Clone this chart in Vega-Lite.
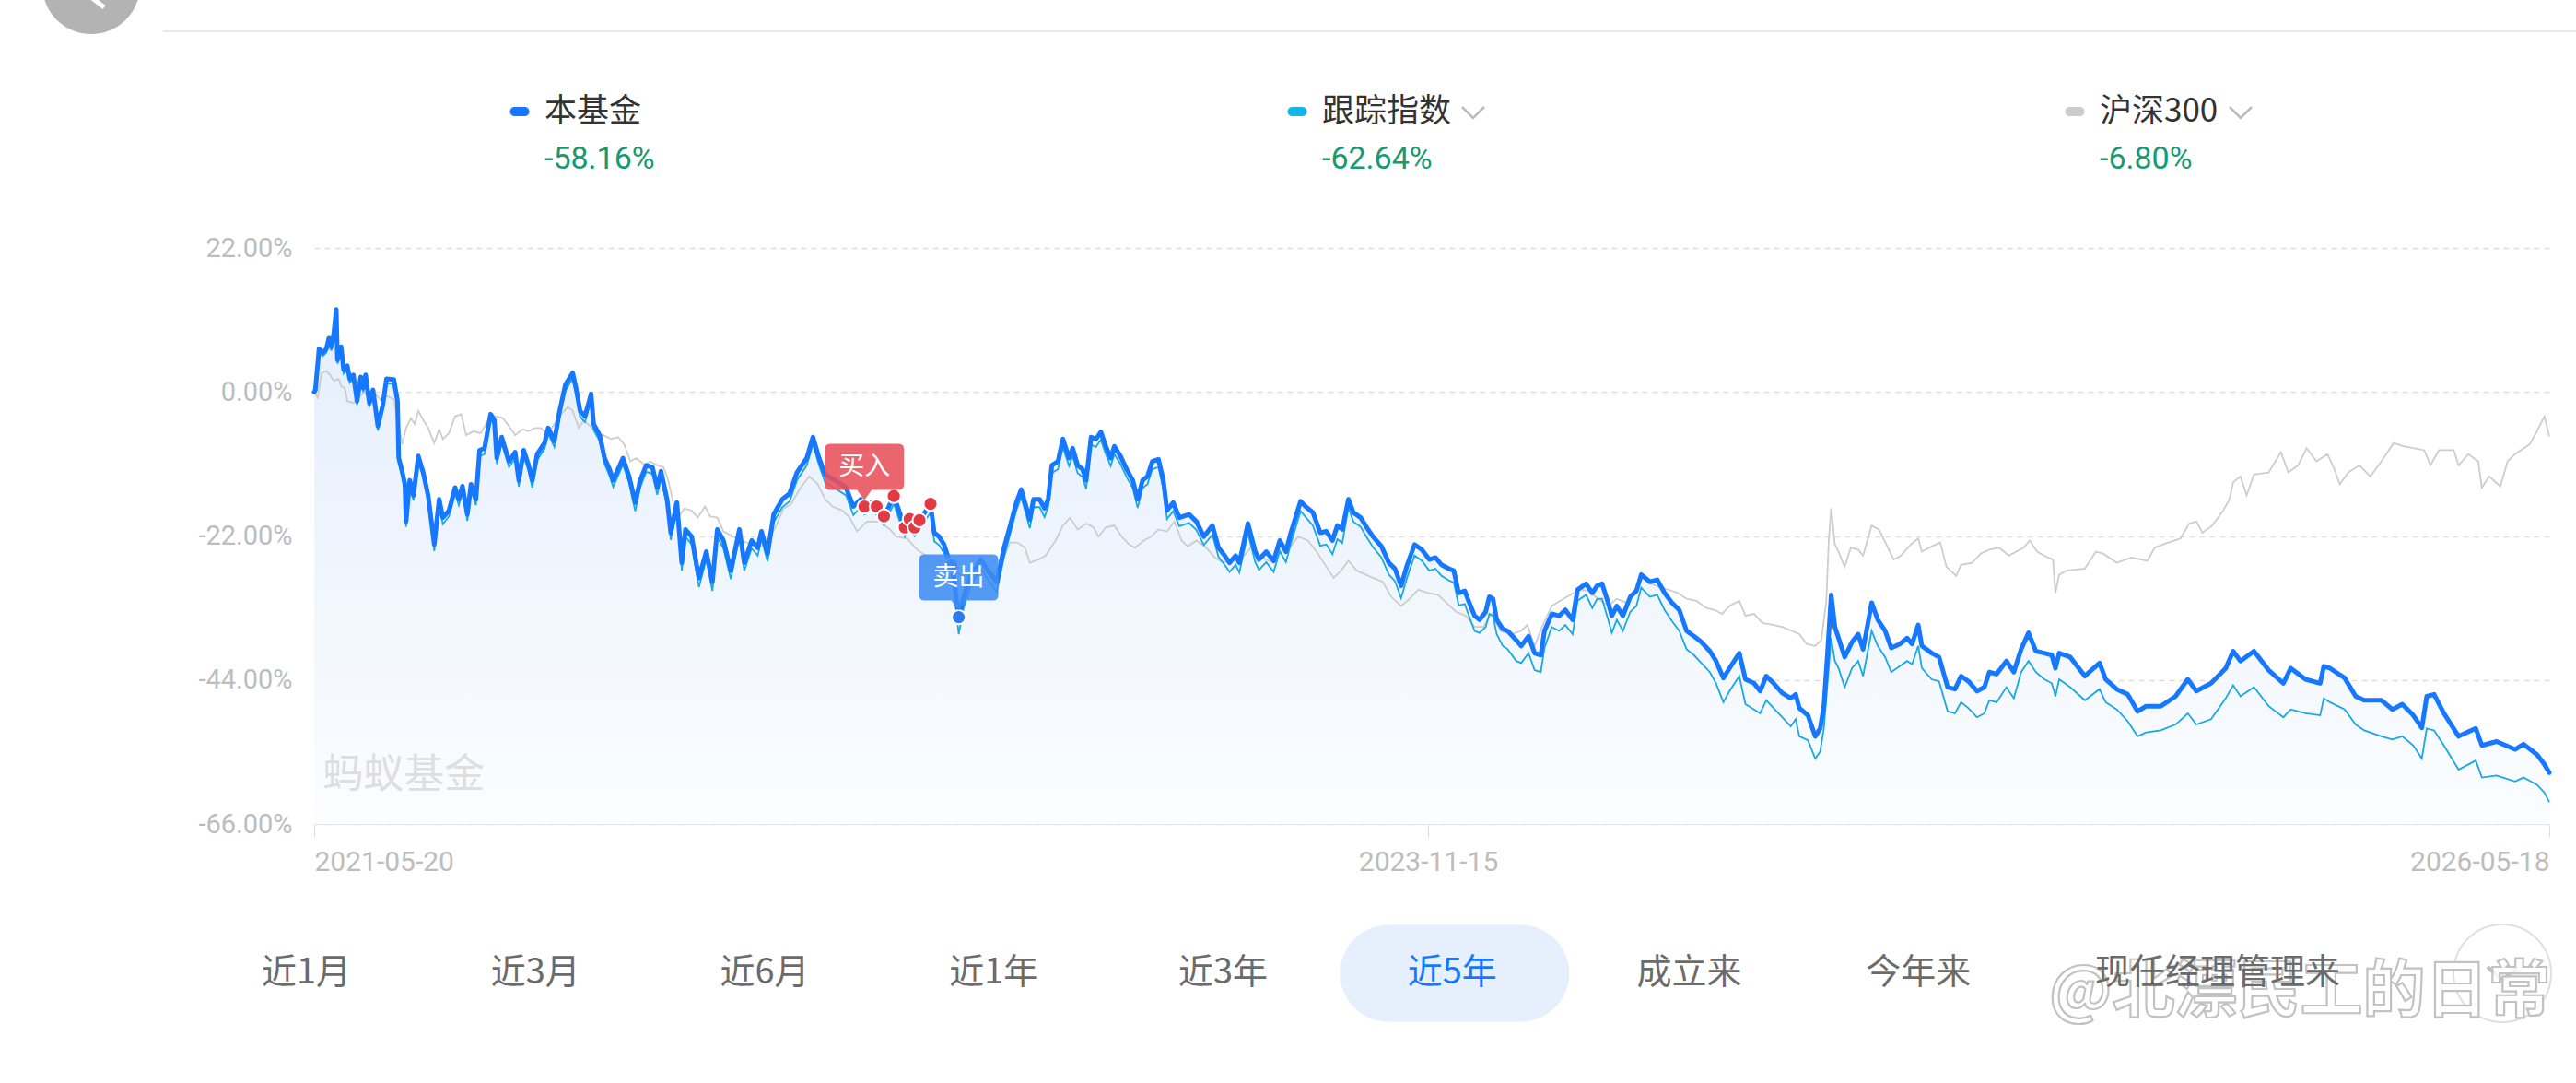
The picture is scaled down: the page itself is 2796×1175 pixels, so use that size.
{
  "$schema": "https://vega.github.io/schema/vega-lite/v6.json",
  "width": 2426,
  "height": 625,
  "autosize": {"type": "none"},
  "padding": {"left": 341, "top": 269, "right": 29, "bottom": 281},
  "background": "#ffffff",
  "config": {"view": {"stroke": null}, "font": "Noto Sans CJK SC"},
  "datasets": {
    "fund": [
      {"day":0,"fund":0,"index":0},{"day":1,"fund":0.3,"index":0.2},{"day":4,"fund":6.6,"index":6.0},{"day":7,"fund":6.0,"index":5.5},{"day":10,"fund":6.6,"index":6.0},{"day":12,"fund":8.2,"index":7.6},{"day":14,"fund":6.9,"index":6.3},{"day":16,"fund":8.9,"index":8.2},{"day":18,"fund":12.6,"index":11.8},{"day":19,"fund":4.9,"index":4.3},{"day":22,"fund":6.9,"index":6.2},{"day":24,"fund":3.4,"index":2.8},{"day":27,"fund":4.0,"index":3.4},{"day":29,"fund":2.0,"index":1.4},{"day":32,"fund":2.6,"index":2.0},{"day":35,"fund":-1.4,"index":-2.0},{"day":38,"fund":2.3,"index":1.7},{"day":40,"fund":0.6,"index":0.0},{"day":42,"fund":2.6,"index":2.0},{"day":45,"fund":-1.7,"index":-2.3},{"day":48,"fund":0.3,"index":-0.3},{"day":52,"fund":-5.2,"index":-5.9},{"day":56,"fund":-2.0,"index":-2.6},{"day":59,"fund":2.0,"index":1.3},{"day":65,"fund":1.9,"index":1.2},{"day":68,"fund":-1.4,"index":-2.1},{"day":69,"fund":-10.1,"index":-10.8},{"day":72,"fund":-12.3,"index":-13.1},{"day":74,"fund":-14.1,"index":-14.9},{"day":75,"fund":-19.8,"index":-20.6},{"day":78,"fund":-13.5,"index":-14.3},{"day":81,"fund":-15.8,"index":-16.6},{"day":85,"fund":-9.8,"index":-10.6},{"day":89,"fund":-12.3,"index":-13.1},{"day":93,"fund":-15.8,"index":-16.7},{"day":98,"fund":-23.3,"index":-24.3},{"day":102,"fund":-16.4,"index":-17.3},{"day":105,"fund":-19.2,"index":-20.2},{"day":110,"fund":-18.1,"index":-19.0},{"day":115,"fund":-14.6,"index":-15.5},{"day":118,"fund":-16.4,"index":-17.3},{"day":121,"fund":-14.4,"index":-15.3},{"day":125,"fund":-18.7,"index":-19.7},{"day":128,"fund":-14.1,"index":-15.0},{"day":132,"fund":-16.4,"index":-17.3},{"day":135,"fund":-8.9,"index":-9.8},{"day":139,"fund":-8.6,"index":-9.5},{"day":144,"fund":-3.4,"index":-4.2},{"day":147,"fund":-4.3,"index":-5.1},{"day":149,"fund":-10.1,"index":-11.0},{"day":153,"fund":-6.9,"index":-7.8},{"day":159,"fund":-10.6,"index":-11.5},{"day":164,"fund":-9.2,"index":-10.1},{"day":167,"fund":-13.5,"index":-14.5},{"day":171,"fund":-8.9,"index":-9.8},{"day":175,"fund":-11.2,"index":-12.1},{"day":178,"fund":-13.5,"index":-14.6},{"day":182,"fund":-9.5,"index":-10.4},{"day":188,"fund":-7.8,"index":-8.7},{"day":191,"fund":-5.5,"index":-6.4},{"day":196,"fund":-7.5,"index":-8.4},{"day":200,"fund":-3.2,"index":-4.1},{"day":205,"fund":1.1,"index":0.2},{"day":211,"fund":2.9,"index":2.0},{"day":214,"fund":0.3,"index":-0.6},{"day":217,"fund":-2.9,"index":-3.8},{"day":221,"fund":-3.7,"index":-4.6},{"day":226,"fund":-0.3,"index":-1.2},{"day":228,"fund":-4.9,"index":-5.8},{"day":233,"fund":-6.6,"index":-7.5},{"day":237,"fund":-10.1,"index":-11.0},{"day":241,"fund":-11.8,"index":-12.8},{"day":244,"fund":-13.5,"index":-14.5},{"day":248,"fund":-11.8,"index":-12.8},{"day":252,"fund":-10.1,"index":-11.1},{"day":257,"fund":-12.9,"index":-13.9},{"day":262,"fund":-16.9,"index":-18.2},{"day":266,"fund":-13.5,"index":-14.6},{"day":271,"fund":-11.2,"index":-12.2},{"day":276,"fund":-11.5,"index":-12.5},{"day":280,"fund":-14.6,"index":-15.7},{"day":283,"fund":-12.1,"index":-13.1},{"day":288,"fund":-16.4,"index":-17.5},{"day":291,"fund":-21.5,"index":-22.6},{"day":296,"fund":-16.9,"index":-18.0},{"day":300,"fund":-26.1,"index":-27.3},{"day":303,"fund":-21.0,"index":-22.1},{"day":308,"fund":-22.1,"index":-23.3},{"day":314,"fund":-28.4,"index":-29.8},{"day":320,"fund":-24.4,"index":-25.6},{"day":325,"fund":-29.0,"index":-30.4},{"day":329,"fund":-21.0,"index":-22.2},{"day":334,"fund":-22.7,"index":-23.9},{"day":340,"fund":-27.3,"index":-28.6},{"day":347,"fund":-21.0,"index":-22.2},{"day":351,"fund":-26.1,"index":-27.3},{"day":357,"fund":-22.7,"index":-23.9},{"day":362,"fund":-23.8,"index":-25.0},{"day":365,"fund":-21.3,"index":-22.5},{"day":370,"fund":-24.7,"index":-25.9},{"day":375,"fund":-18.7,"index":-19.9},{"day":382,"fund":-16.4,"index":-17.6},{"day":388,"fund":-15.5,"index":-16.7},{"day":394,"fund":-12.3,"index":-13.5},{"day":402,"fund":-10.1,"index":-11.2},{"day":407,"fund":-6.9,"index":-8.0},{"day":412,"fund":-10.1,"index":-11.2},{"day":417,"fund":-12.6,"index":-13.8},{"day":425,"fund":-13.5,"index":-14.7},{"day":434,"fund":-14.6,"index":-15.8},{"day":440,"fund":-17.5,"index":-18.8},{"day":446,"fund":-16.4,"index":-17.6},{"day":449,"fund":-17.5,"index":-18.7},{"day":455,"fund":-16.9,"index":-18.0},{"day":459,"fund":-17.5,"index":-18.8},{"day":462,"fund":-17.0,"index":-18.2},{"day":465,"fund":-19.0,"index":-20.3},{"day":469,"fund":-17.5,"index":-18.7},{"day":473,"fund":-15.9,"index":-17.1},{"day":477,"fund":-18.0,"index":-19.3},{"day":482,"fund":-20.8,"index":-22.1},{"day":486,"fund":-19.4,"index":-20.7},{"day":490,"fund":-20.7,"index":-22.0},{"day":494,"fund":-19.7,"index":-21.0},{"day":498,"fund":-18.5,"index":-19.8},{"day":503,"fund":-17.1,"index":-18.4},
      {"day":506,"fund":-21.5,"index":-22.8},{"day":510,"fund":-22.1,"index":-23.4},{"day":514,"fund":-23.3,"index":-24.6},{"day":518,"fund":-25.6,"index":-26.9},{"day":520,"fund":-26.5,"index":-27.8},{"day":522,"fund":-28.4,"index":-29.9},{"day":526,"fund":-34.4,"index":-37.0},{"day":530,"fund":-31.3,"index":-33.0},{"day":536,"fund":-27.9,"index":-29.4},{"day":544,"fund":-25.6,"index":-27.0},{"day":550,"fund":-27.3,"index":-28.7},{"day":557,"fund":-29.0,"index":-30.6},{"day":563,"fund":-23.8,"index":-25.2},{"day":568,"fund":-20.4,"index":-21.7},{"day":573,"fund":-16.9,"index":-18.1},{"day":577,"fund":-14.9,"index":-16.1},{"day":580,"fund":-16.9,"index":-18.1},{"day":584,"fund":-19.5,"index":-20.8},{"day":587,"fund":-16.4,"index":-17.6},{"day":592,"fund":-16.4,"index":-17.6},{"day":596,"fund":-17.8,"index":-19.1},{"day":599,"fund":-16.4,"index":-17.6},{"day":602,"fund":-11.2,"index":-12.4},{"day":607,"fund":-10.6,"index":-11.8},{"day":611,"fund":-7.2,"index":-8.4},{"day":616,"fund":-10.1,"index":-11.3},{"day":619,"fund":-8.6,"index":-9.8},{"day":623,"fund":-11.2,"index":-12.4},{"day":627,"fund":-11.8,"index":-13.0},{"day":630,"fund":-13.5,"index":-14.8},{"day":634,"fund":-6.9,"index":-8.1},{"day":638,"fund":-7.2,"index":-8.4},{"day":642,"fund":-6.1,"index":-7.3},{"day":646,"fund":-8.3,"index":-9.5},{"day":650,"fund":-10.1,"index":-11.3},{"day":653,"fund":-8.3,"index":-9.5},{"day":658,"fund":-9.8,"index":-11.0},{"day":663,"fund":-11.8,"index":-13.0},{"day":668,"fund":-13.5,"index":-14.7},{"day":672,"fund":-16.4,"index":-17.7},{"day":676,"fund":-13.5,"index":-14.7},{"day":680,"fund":-12.9,"index":-14.1},{"day":684,"fund":-10.6,"index":-11.8},{"day":689,"fund":-10.3,"index":-11.5},{"day":693,"fund":-13.5,"index":-14.8},{"day":696,"fund":-18.1,"index":-19.4},{"day":701,"fund":-16.9,"index":-18.2},{"day":706,"fund":-19.2,"index":-20.5},{"day":714,"fund":-18.7,"index":-20.0},{"day":720,"fund":-19.8,"index":-21.1},{"day":726,"fund":-22.1,"index":-23.4},{"day":733,"fund":-20.4,"index":-21.8},{"day":738,"fund":-23.8,"index":-25.2},{"day":743,"fund":-25.0,"index":-26.4},{"day":747,"fund":-26.1,"index":-27.5},{"day":752,"fund":-25.0,"index":-26.4},{"day":755,"fund":-26.1,"index":-27.6},{"day":762,"fund":-20.1,"index":-21.6},{"day":768,"fund":-24.4,"index":-26.0},{"day":771,"fund":-25.6,"index":-27.2},{"day":777,"fund":-24.4,"index":-26.0},{"day":783,"fund":-25.8,"index":-27.5},{"day":788,"fund":-22.7,"index":-24.3},{"day":793,"fund":-24.4,"index":-26.0},{"day":797,"fund":-21.5,"index":-23.2},{"day":805,"fund":-16.7,"index":-18.2},{"day":809,"fund":-17.5,"index":-19.1},{"day":815,"fund":-18.4,"index":-20.4},{"day":821,"fund":-21.5,"index":-23.5},{"day":826,"fund":-21.3,"index":-23.3},{"day":831,"fund":-22.7,"index":-24.8},{"day":835,"fund":-20.4,"index":-22.5},{"day":839,"fund":-21.0,"index":-23.1},{"day":844,"fund":-16.4,"index":-17.6},{"day":848,"fund":-18.4,"index":-19.8},{"day":854,"fund":-19.2,"index":-20.6},{"day":859,"fund":-20.7,"index":-22.2},{"day":864,"fund":-22.1,"index":-23.7},{"day":871,"fund":-23.6,"index":-25.3},{"day":877,"fund":-26.1,"index":-27.9},{"day":882,"fund":-27.0,"index":-28.9},{"day":887,"fund":-29.6,"index":-31.5},{"day":892,"fund":-26.4,"index":-28.3},{"day":898,"fund":-23.3,"index":-25.0},{"day":904,"fund":-24.1,"index":-25.8},{"day":910,"fund":-25.6,"index":-27.3},{"day":915,"fund":-25.3,"index":-27.0},{"day":920,"fund":-26.4,"index":-28.1},{"day":926,"fund":-27.0,"index":-28.8},{"day":930,"fund":-27.3,"index":-29.1},{"day":934,"fund":-30.7,"index":-32.6},
      {"day":939,"fund":-30.4,"index":-32.4},{"day":942,"fund":-31.9,"index":-34.0},{"day":947,"fund":-34.2,"index":-36.5},{"day":951,"fund":-34.8,"index":-36.8},{"day":956,"fund":-33.6,"index":-35.9},{"day":959,"fund":-31.3,"index":-33.9},{"day":962,"fund":-31.6,"index":-34.2},{"day":965,"fund":-34.8,"index":-37.0},{"day":970,"fund":-36.2,"index":-38.8},{"day":974,"fund":-36.5,"index":-39.3},{"day":981,"fund":-37.9,"index":-41.1},{"day":985,"fund":-38.8,"index":-41.4},{"day":991,"fund":-37.3,"index":-39.9},{"day":996,"fund":-39.9,"index":-42.5},{"day":1001,"fund":-40.2,"index":-42.8},{"day":1004,"fund":-36.5,"index":-39.1},{"day":1010,"fund":-33.9,"index":-35.9},{"day":1016,"fund":-34.2,"index":-36.5},{"day":1021,"fund":-33.3,"index":-35.6},{"day":1027,"fund":-34.8,"index":-37.0},{"day":1031,"fund":-30.2,"index":-31.9},{"day":1038,"fund":-29.3,"index":-31.0},{"day":1043,"fund":-30.7,"index":-33.0},{"day":1047,"fund":-29.6,"index":-31.6},{"day":1051,"fund":-29.3,"index":-31.6},{"day":1056,"fund":-32.2,"index":-34.8},{"day":1059,"fund":-34.2,"index":-36.8},{"day":1063,"fund":-32.7,"index":-34.8},{"day":1068,"fund":-34.2,"index":-36.5},{"day":1074,"fund":-31.3,"index":-33.6},{"day":1079,"fund":-30.4,"index":-32.7},{"day":1083,"fund":-27.9,"index":-29.9},{"day":1090,"fund":-29.0,"index":-31.3},{"day":1096,"fund":-28.7,"index":-31.0},{"day":1102,"fund":-30.7,"index":-33.3},{"day":1108,"fund":-32.2,"index":-35.0},{"day":1114,"fund":-33.3,"index":-36.5},{"day":1120,"fund":-36.5,"index":-39.3},{"day":1126,"fund":-37.3,"index":-40.2},{"day":1132,"fund":-38.2,"index":-41.4},{"day":1139,"fund":-39.6,"index":-42.8},{"day":1144,"fund":-41.1,"index":-44.5},{"day":1150,"fund":-43.7,"index":-47.4},{"day":1155,"fund":-42.2,"index":-45.7},{"day":1163,"fund":-39.9,"index":-43.4},{"day":1168,"fund":-43.9,"index":-47.7},{"day":1175,"fund":-44.5,"index":-48.5},{"day":1180,"fund":-45.7,"index":-49.1},{"day":1185,"fund":-43.4,"index":-47.1},{"day":1191,"fund":-44.5,"index":-48.3},{"day":1198,"fund":-46.0,"index":-49.7},{"day":1205,"fund":-46.8,"index":-51.1},{"day":1209,"fund":-46.2,"index":-50.0},{"day":1212,"fund":-48.3,"index":-52.6},{"day":1219,"fund":-49.4,"index":-53.2},{"day":1225,"fund":-52.6,"index":-56.0},{"day":1229,"fund":-51.4,"index":-54.9},{"day":1232,"fund":-48.0,"index":-51.4},{"day":1235,"fund":-39.9,"index":-44.5},{"day":1238,"fund":-31.0,"index":-37.6},{"day":1241,"fund":-35.9,"index":-41.1},{"day":1244,"fund":-37.6,"index":-42.2},{"day":1249,"fund":-40.5,"index":-45.1},{"day":1255,"fund":-38.2,"index":-42.2},{"day":1260,"fund":-37.0,"index":-41.1},{"day":1264,"fund":-39.3,"index":-43.4},{"day":1271,"fund":-32.2,"index":-36.5},{"day":1276,"fund":-34.8,"index":-38.8},{"day":1282,"fund":-36.5,"index":-40.5},{"day":1287,"fund":-39.1,"index":-42.8},{"day":1294,"fund":-38.5,"index":-41.9},{"day":1300,"fund":-37.6,"index":-41.1},{"day":1304,"fund":-38.5,"index":-41.6},{"day":1309,"fund":-35.6,"index":-38.8},{"day":1312,"fund":-38.8,"index":-42.2},{"day":1320,"fund":-39.9,"index":-43.9},{"day":1326,"fund":-40.5,"index":-44.2},{"day":1333,"fund":-45.1,"index":-48.8},{"day":1339,"fund":-45.4,"index":-49.1},{"day":1344,"fund":-43.4,"index":-47.4},{"day":1350,"fund":-44.2,"index":-48.3},{"day":1357,"fund":-45.7,"index":-49.7},{"day":1363,"fund":-45.1,"index":-49.1},{"day":1367,"fund":-42.8,"index":-47.1},{"day":1373,"fund":-43.1,"index":-47.4},{"day":1381,"fund":-41.1,"index":-45.1},
      {"day":1387,"fund":-42.8,"index":-46.8},{"day":1393,"fund":-39.3,"index":-42.8},{"day":1399,"fund":-36.8,"index":-41.1},{"day":1405,"fund":-39.6,"index":-42.8},{"day":1412,"fund":-39.9,"index":-43.9},{"day":1418,"fund":-40.2,"index":-44.5},{"day":1421,"fund":-42.2,"index":-46.5},{"day":1424,"fund":-39.9,"index":-43.9},{"day":1433,"fund":-40.5,"index":-45.1},{"day":1445,"fund":-43.4,"index":-47.1},{"day":1457,"fund":-41.4,"index":-45.4},{"day":1462,"fund":-43.9,"index":-47.4},{"day":1471,"fund":-45.4,"index":-48.5},{"day":1480,"fund":-46.2,"index":-50.3},{"day":1488,"fund":-48.8,"index":-52.6},{"day":1495,"fund":-48.0,"index":-52.0},{"day":1507,"fund":-48.0,"index":-51.7},{"day":1519,"fund":-46.5,"index":-50.8},{"day":1529,"fund":-43.9,"index":-49.1},{"day":1536,"fund":-45.7,"index":-50.8},{"day":1548,"fund":-44.5,"index":-50.0},{"day":1560,"fund":-42.2,"index":-46.8},{"day":1566,"fund":-39.6,"index":-44.8},{"day":1572,"fund":-41.1,"index":-46.5},{"day":1583,"fund":-39.6,"index":-45.1},{"day":1595,"fund":-42.5,"index":-48.0},{"day":1607,"fund":-44.5,"index":-49.7},{"day":1613,"fund":-42.2,"index":-48.5},{"day":1625,"fund":-43.9,"index":-49.1},{"day":1637,"fund":-44.5,"index":-49.4},{"day":1640,"fund":-41.9,"index":-46.8},{"day":1645,"fund":-42.2,"index":-47.4},{"day":1657,"fund":-43.7,"index":-48.5},{"day":1666,"fund":-46.5,"index":-50.8},{"day":1673,"fund":-47.1,"index":-51.7},{"day":1687,"fund":-47.1,"index":-52.6},{"day":1696,"fund":-48.5,"index":-53.1},{"day":1704,"fund":-47.7,"index":-52.6},{"day":1713,"fund":-49.4,"index":-54.0},{"day":1720,"fund":-51.3,"index":-56.0},{"day":1724,"fund":-46.5,"index":-51.4},{"day":1730,"fund":-46.2,"index":-51.7},{"day":1738,"fund":-49.1,"index":-54.0},{"day":1750,"fund":-52.6,"index":-57.7},{"day":1764,"fund":-51.4,"index":-56.3},{"day":1769,"fund":-54.0,"index":-58.9},{"day":1781,"fund":-53.4,"index":-58.6},{"day":1796,"fund":-54.6,"index":-59.5},{"day":1803,"fund":-53.8,"index":-58.9},{"day":1814,"fund":-55.4,"index":-60.0},{"day":1820,"fund":-56.9,"index":-61.2},{"day":1824,"fund":-58.16,"index":-62.64}
    ],
    "hs": [
      {"day":0,"hs":0},{"day":3,"hs":-0.9},{"day":6,"hs":2.9},{"day":10,"hs":3.2},{"day":13,"hs":2.6},{"day":16,"hs":1.7},{"day":20,"hs":2.0},{"day":22,"hs":0.9},{"day":25,"hs":0.6},{"day":27,"hs":-1.4},{"day":32,"hs":-1.7},{"day":36,"hs":-0.9},{"day":41,"hs":0},{"day":45,"hs":-1.1},{"day":50,"hs":-0.3},{"day":55,"hs":-1.4},{"day":59,"hs":-0.6},{"day":65,"hs":-1.1},{"day":68,"hs":-4.3},{"day":72,"hs":-8.0},{"day":75,"hs":-5.5},{"day":79,"hs":-4.0},{"day":82,"hs":-4.9},{"day":85,"hs":-2.9},{"day":89,"hs":-4.3},{"day":93,"hs":-5.5},{"day":98,"hs":-7.8},{"day":102,"hs":-5.7},{"day":105,"hs":-7.2},{"day":110,"hs":-6.3},{"day":115,"hs":-3.7},{"day":120,"hs":-3.4},{"day":124,"hs":-6.6},{"day":130,"hs":-6.0},{"day":136,"hs":-6.3},{"day":142,"hs":-4.3},{"day":148,"hs":-3.7},{"day":154,"hs":-4.0},{"day":160,"hs":-5.5},{"day":164,"hs":-6.6},{"day":170,"hs":-5.7},{"day":175,"hs":-6.0},{"day":180,"hs":-5.5},{"day":185,"hs":-5.5},{"day":190,"hs":-6.3},{"day":194,"hs":-5.5},{"day":200,"hs":-3.7},{"day":207,"hs":-2.3},{"day":211,"hs":-2.9},{"day":216,"hs":-5.5},{"day":220,"hs":-4.3},{"day":227,"hs":-5.5},{"day":231,"hs":-6.6},{"day":236,"hs":-6.6},{"day":242,"hs":-7.2},{"day":248,"hs":-6.9},{"day":253,"hs":-8.0},{"day":258,"hs":-10.6},{"day":263,"hs":-10.1},{"day":270,"hs":-11.2},{"day":274,"hs":-10.6},{"day":280,"hs":-11.2},{"day":285,"hs":-11.5},{"day":289,"hs":-13.5},{"day":293,"hs":-16.9},{"day":297,"hs":-19.2},{"day":302,"hs":-17.8},{"day":308,"hs":-18.1},{"day":313,"hs":-19.2},{"day":319,"hs":-17.5},{"day":323,"hs":-19.0},{"day":329,"hs":-19.2},{"day":334,"hs":-21.3},{"day":342,"hs":-22.1},{"day":349,"hs":-22.7},{"day":357,"hs":-23.3},{"day":363,"hs":-23.8},{"day":371,"hs":-22.7},{"day":377,"hs":-20.4},{"day":383,"hs":-17.8},{"day":389,"hs":-17.2},{"day":397,"hs":-14.6},{"day":404,"hs":-12.9},{"day":411,"hs":-14.1},{"day":417,"hs":-16.4},{"day":423,"hs":-17.5},{"day":431,"hs":-18.1},{"day":437,"hs":-19.2},{"day":443,"hs":-21.3},{"day":451,"hs":-19.8},{"day":461,"hs":-19.8},{"day":470,"hs":-21.0},{"day":475,"hs":-22.1},{"day":484,"hs":-22.4},{"day":492,"hs":-24.1},{"day":499,"hs":-25.0},{"day":508,"hs":-25.6},{"day":518,"hs":-26.7},{"day":527,"hs":-27.9},{"day":536,"hs":-28.4},{"day":545,"hs":-27.3},{"day":554,"hs":-27.9},{"day":562,"hs":-25.6},{"day":568,"hs":-23.0},{"day":574,"hs":-23.0},{"day":580,"hs":-23.8},{"day":584,"hs":-26.1},{"day":591,"hs":-25.6},{"day":597,"hs":-25.0},{"day":605,"hs":-22.7},{"day":611,"hs":-20.4},{"day":617,"hs":-19.2},{"day":623,"hs":-21.0},{"day":630,"hs":-20.1},{"day":636,"hs":-20.7},{"day":640,"hs":-22.1},{"day":646,"hs":-20.7},{"day":653,"hs":-20.4},{"day":659,"hs":-22.1},{"day":665,"hs":-23.3},{"day":670,"hs":-23.8},{"day":677,"hs":-22.7},{"day":683,"hs":-22.1},{"day":689,"hs":-21.0},{"day":696,"hs":-21.3},{"day":702,"hs":-19.8},{"day":708,"hs":-22.7},{"day":713,"hs":-23.6},{"day":720,"hs":-22.7},{"day":728,"hs":-23.8},{"day":735,"hs":-25.3},{"day":742,"hs":-26.1},{"day":751,"hs":-25.6},{"day":759,"hs":-25.0},{"day":765,"hs":-23.6},{"day":771,"hs":-25.0},{"day":777,"hs":-25.6},{"day":783,"hs":-26.1},{"day":788,"hs":-23.8},{"day":795,"hs":-24.1},{"day":803,"hs":-22.1},{"day":811,"hs":-22.7},{"day":818,"hs":-24.4},{"day":826,"hs":-26.7},{"day":832,"hs":-28.4},{"day":838,"hs":-27.3},{"day":844,"hs":-25.8},{"day":851,"hs":-27.3},{"day":858,"hs":-27.9},{"day":864,"hs":-28.4},{"day":872,"hs":-29.0},{"day":879,"hs":-31.3},{"day":887,"hs":-32.7},{"day":894,"hs":-31.6},{"day":901,"hs":-30.2},{"day":909,"hs":-30.7},{"day":917,"hs":-31.0},{"day":924,"hs":-32.2},{"day":932,"hs":-33.6},{"day":940,"hs":-34.2},{"day":947,"hs":-35.9},{"day":954,"hs":-35.9},{"day":961,"hs":-33.9},{"day":968,"hs":-36.5},{"day":977,"hs":-37.0},{"day":985,"hs":-36.5},{"day":990,"hs":-35.6},{"day":996,"hs":-38.8},{"day":1002,"hs":-35.9},{"day":1010,"hs":-32.7},{"day":1017,"hs":-31.9},{"day":1025,"hs":-31.0},{"day":1033,"hs":-30.2},{"day":1040,"hs":-30.4},{"day":1048,"hs":-31.6},{"day":1056,"hs":-32.7},{"day":1063,"hs":-31.6},{"day":1071,"hs":-32.2},{"day":1077,"hs":-30.7},{"day":1083,"hs":-28.1},{"day":1091,"hs":-29.3},{"day":1099,"hs":-29.9},{"day":1105,"hs":-30.2},{"day":1113,"hs":-30.7},{"day":1120,"hs":-31.6},{"day":1128,"hs":-31.9},{"day":1136,"hs":-33.0},{"day":1143,"hs":-33.3},{"day":1149,"hs":-33.9},{"day":1155,"hs":-32.7},{"day":1163,"hs":-31.9},{"day":1168,"hs":-34.2},{"day":1175,"hs":-33.9},{"day":1182,"hs":-35.3},{"day":1191,"hs":-35.6},{"day":1198,"hs":-35.9},{"day":1206,"hs":-36.5},{"day":1212,"hs":-37.0},{"day":1218,"hs":-38.5},{"day":1225,"hs":-38.8},{"day":1230,"hs":-37.9},{"day":1234,"hs":-31.9},{"day":1236,"hs":-22.7},{"day":1238,"hs":-17.8},{"day":1241,"hs":-23.3},{"day":1244,"hs":-24.4},{"day":1249,"hs":-26.7},{"day":1254,"hs":-23.8},{"day":1260,"hs":-24.1},{"day":1264,"hs":-25.0},{"day":1271,"hs":-20.4},{"day":1277,"hs":-21.0},{"day":1283,"hs":-23.3},{"day":1289,"hs":-25.6},{"day":1295,"hs":-25.0},{"day":1303,"hs":-23.3},{"day":1309,"hs":-22.4},{"day":1312,"hs":-24.4},{"day":1320,"hs":-23.6},{"day":1327,"hs":-23.0},{"day":1332,"hs":-26.7},{"day":1340,"hs":-28.1},{"day":1344,"hs":-26.4},{"day":1353,"hs":-26.1},{"day":1360,"hs":-24.7},{"day":1367,"hs":-24.1},{"day":1375,"hs":-23.8},{"day":1383,"hs":-25.0},{"day":1389,"hs":-24.4},{"day":1395,"hs":-23.8},{"day":1400,"hs":-22.7},{"day":1406,"hs":-24.4},{"day":1415,"hs":-25.3},{"day":1419,"hs":-25.6},{"day":1421,"hs":-30.7},{"day":1424,"hs":-27.9},{"day":1430,"hs":-27.3},{"day":1445,"hs":-27.0},{"day":1454,"hs":-24.4},{"day":1460,"hs":-24.7},{"day":1471,"hs":-26.1},{"day":1483,"hs":-25.3},{"day":1496,"hs":-25.8},{"day":1502,"hs":-23.8},{"day":1513,"hs":-23.0},{"day":1523,"hs":-22.4},{"day":1530,"hs":-20.1},{"day":1536,"hs":-19.8},{"day":1541,"hs":-21.5},{"day":1549,"hs":-20.4},{"day":1558,"hs":-18.1},{"day":1563,"hs":-16.4},{"day":1566,"hs":-13.8},{"day":1572,"hs":-12.9},{"day":1577,"hs":-15.8},{"day":1583,"hs":-12.6},{"day":1595,"hs":-12.3},{"day":1605,"hs":-9.2},{"day":1611,"hs":-12.3},{"day":1619,"hs":-11.2},{"day":1626,"hs":-8.6},{"day":1634,"hs":-10.6},{"day":1643,"hs":-9.5},{"day":1648,"hs":-11.5},{"day":1653,"hs":-14.1},{"day":1660,"hs":-12.3},{"day":1669,"hs":-11.2},{"day":1678,"hs":-12.9},{"day":1687,"hs":-10.6},{"day":1697,"hs":-7.8},{"day":1705,"hs":-8.3},{"day":1722,"hs":-8.9},{"day":1727,"hs":-11.2},{"day":1734,"hs":-8.9},{"day":1746,"hs":-8.9},{"day":1750,"hs":-11.2},{"day":1758,"hs":-9.5},{"day":1766,"hs":-10.6},{"day":1769,"hs":-14.6},{"day":1775,"hs":-12.9},{"day":1784,"hs":-14.4},{"day":1790,"hs":-10.6},{"day":1796,"hs":-9.5},{"day":1808,"hs":-8.0},{"day":1814,"hs":-6.0},{"day":1820,"hs":-3.7},{"day":1824,"hs":-6.8}
    ],
    "trades": [
      {"day":449,"v":-17.5,"type":"买入","tag":"买入"},{"day":459,"v":-17.5,"type":"买入"},{"day":465,"v":-19.0,"type":"买入"},{"day":473,"v":-15.9,"type":"买入"},{"day":482,"v":-20.7,"type":"买入"},{"day":486,"v":-19.4,"type":"买入"},{"day":490,"v":-20.7,"type":"买入"},{"day":494,"v":-19.6,"type":"买入"},{"day":503,"v":-17.1,"type":"买入"},
      {"day":520,"v":-26.5,"type":"卖出"},{"day":526,"v":-34.4,"type":"卖出","tag":"卖出"}
    ],
    "legend": [
      {"name":"本基金","ret":"-58.16%"},
      {"name":"跟踪指数","ret":"-62.64%"},
      {"name":"沪深300","ret":"-6.80%"}
    ],
    "buttons": [
      {"label":"近1月"},{"label":"近3月"},{"label":"近6月"},{"label":"近1年"},{"label":"近3年"},{"label":"近5年"},{"label":"成立来"},{"label":"今年来"},{"label":"现任经理管理来"}
    ]
  },
  "layer": [
    {
      "layer": [
        {
          "data": {"name": "fund"},
          "mark": {"type": "area", "interpolate": "linear", "fill": {"gradient": "linear", "x1": 0, "y1": 0, "x2": 0, "y2": 1, "stops": [{"offset": 0, "color": "#e4eefc"}, {"offset": 1, "color": "#fbfdff"}]}},
          "encoding": {
            "x": {"field": "day", "type": "quantitative", "scale": {"domain": [0, 1824], "nice": false, "zero": false},
              "axis": {"values": [0, 909, 1824], "labelExpr": "timeFormat(datetime(2021, 4, 20 + datum.value), '%Y-%m-%d')", "labelFlush": true, "grid": false, "domain": true, "domainColor": "#e6e6e6", "ticks": true, "tickColor": "#dedede", "tickSize": 14, "labelPadding": 12, "labelColor": "#bdbdbd", "labelFontSize": 30, "labelFont": "Roboto", "title": null}},
            "y": {"field": "fund", "type": "quantitative", "scale": {"domain": [-66, 22], "nice": false, "zero": false},
              "axis": {"values": [22, 0, -22, -44, -66], "labelExpr": "(datum.value < 0 ? '-' : '') + format(abs(datum.value), '.2f') + '%'", "grid": true, "gridDash": [6, 5], "gridColor": "#dddddd", "gridWidth": 1.5, "domain": false, "ticks": false, "labelPadding": 24, "labelColor": "#bdbdbd", "labelFontSize": 29, "labelFont": "Roboto", "title": null}},
            "y2": {"datum": -66}
          }
        },
        {
          "data": {"name": "hs"},
          "mark": {"type": "line", "color": "#cdcdcd", "strokeWidth": 1.8},
          "encoding": {"x": {"field": "day", "type": "quantitative"}, "y": {"field": "hs", "type": "quantitative"}}
        },
        {
          "data": {"name": "fund"},
          "mark": {"type": "line", "color": "#19a8e0", "strokeWidth": 1.8},
          "encoding": {"x": {"field": "day", "type": "quantitative"}, "y": {"field": "index", "type": "quantitative"}}
        },
        {
          "data": {"name": "fund"},
          "mark": {"type": "line", "color": "#1677ff", "strokeWidth": 5, "strokeJoin": "round", "strokeCap": "round"},
          "encoding": {"x": {"field": "day", "type": "quantitative"}, "y": {"field": "fund", "type": "quantitative"}}
        },
        {
          "data": {"values": [{"label": "蚂蚁基金"}]},
          "mark": {"type": "text", "align": "left", "baseline": "middle", "fontSize": 44, "color": "#dedede", "font": "Noto Sans CJK SC"},
          "encoding": {"x": {"datum": 7, "type": "quantitative"}, "y": {"datum": -58.7, "type": "quantitative"}, "text": {"field": "label"}}
        },
        {
          "data": {"name": "trades"},
          "mark": {"type": "point", "filled": true, "size": 230, "stroke": "#ffffff", "strokeWidth": 2, "opacity": 1},
          "encoding": {
            "x": {"field": "day", "type": "quantitative"}, "y": {"field": "v", "type": "quantitative"},
            "fill": {"condition": {"test": "datum.type === '买入'", "value": "#e23a45"}, "value": "#2b7cf0"}
          }
        },
        {
          "data": {"name": "trades"},
          "transform": [{"filter": "isValid(datum.tag)"}],
          "mark": {"type": "point", "filled": true, "size": 10000, "opacity": 0.88, "strokeWidth": 0,
            "shape": "M -0.74,-1.36 L 0.74,-1.36 Q 0.86,-1.36 0.86,-1.24 L 0.86,-0.48 Q 0.86,-0.36 0.74,-0.36 L 0.16,-0.36 L 0,-0.14 L -0.16,-0.36 L -0.74,-0.36 Q -0.86,-0.36 -0.86,-0.48 L -0.86,-1.24 Q -0.86,-1.36 -0.74,-1.36 Z"},
          "encoding": {
            "x": {"field": "day", "type": "quantitative"}, "y": {"field": "v", "type": "quantitative"},
            "fill": {"condition": {"test": "datum.type === '买入'", "value": "#e8505b"}, "value": "#3d8cf2"}
          }
        },
        {
          "data": {"name": "trades"},
          "transform": [{"filter": "isValid(datum.tag)"}],
          "mark": {"type": "text", "dy": -43, "align": "center", "baseline": "middle", "fontSize": 28, "color": "#ffffff", "font": "Noto Sans CJK SC"},
          "encoding": {"x": {"field": "day", "type": "quantitative"}, "y": {"field": "v", "type": "quantitative"}, "text": {"field": "tag"}}
        }
      ]
    },
    {
      "data": {"name": "legend"},
      "encoding": {
        "x": {"field": "name", "type": "nominal", "scale": {"type": "point", "domain": ["本基金", "跟踪指数", "沪深300"], "range": [223, 1911], "padding": 0}, "axis": null},
        "y": {"datum": "title", "type": "nominal", "scale": {"type": "point", "domain": ["title", "value"], "range": [-148, -96], "padding": 0}, "axis": null}
      },
      "layer": [
        {
          "transform": [{"filter": "datum.name === '本基金'"}],
          "mark": {"type": "point", "filled": true, "opacity": 1, "size": 40000, "color": "#b3b3b3",
            "shape": "M -4.12,-1.37 A 0.53,0.53 0 1 1 -5.18,-1.37 A 0.53,0.53 0 1 1 -4.12,-1.37 Z"}
        },
        {
          "transform": [{"filter": "datum.name === '本基金'"}],
          "mark": {"type": "point", "filled": false, "opacity": 1, "size": 40000, "color": "#ffffff", "strokeWidth": 5,
            "shape": "M -4.51,-1.49 L -4.74,-1.31 L -4.51,-1.13"}
        },
        {
          "transform": [{"filter": "datum.name === '本基金'"}],
          "mark": {"type": "point", "filled": false, "opacity": 1, "size": 40000, "color": "#e8e8e8", "strokeWidth": 2,
            "shape": "M -3.87,-0.87 L 22.4,-0.87"}
        },
        {
          "mark": {"type": "point", "filled": true, "opacity": 1, "size": 441,
            "shape": "M -0.525,-0.475 L 0.525,-0.475 A 0.475,0.475 0 0 1 0.525,0.475 L -0.525,0.475 A 0.475,0.475 0 0 1 -0.525,-0.475 Z"},
          "encoding": {"fill": {"field": "name", "type": "nominal", "scale": {"domain": ["本基金", "跟踪指数", "沪深300"], "range": ["#1677ff", "#13b5ea", "#cccccc"]}, "legend": null}}
        },
        {
          "mark": {"type": "point", "filled": false, "opacity": 1, "size": 40000, "color": "#bbbbbb", "strokeWidth": 2.5},
          "encoding": {"shape": {"field": "name", "type": "nominal", "scale": {"domain": ["本基金", "跟踪指数", "沪深300"], "range": ["M 0,0", "M 1.79,-0.05 L 1.91,0.07 L 2.03,-0.05", "M 1.68,-0.05 L 1.80,0.07 L 1.92,-0.05"]}, "legend": null}}
        },
        {
          "mark": {"type": "text", "align": "left", "baseline": "middle", "dx": 27, "fontSize": 35, "color": "#333333", "font": "Noto Sans CJK SC"},
          "encoding": {"text": {"field": "name"}}
        },
        {
          "mark": {"type": "text", "align": "left", "baseline": "middle", "dx": 27, "fontSize": 34, "color": "#179a70", "font": "Roboto"},
          "encoding": {"y": {"datum": "value", "type": "nominal"}, "text": {"field": "ret"}}
        }
      ]
    },
    {
      "data": {"name": "buttons"},
      "encoding": {
        "x": {"field": "label", "type": "nominal", "scale": {"type": "point", "domain": ["近1月", "近3月", "近6月", "近1年", "近3年", "近5年", "成立来", "今年来", "现任经理管理来"], "range": [-57, 1933], "padding": 0}, "axis": null},
        "y": {"datum": "row", "type": "nominal", "scale": {"type": "point", "domain": ["row"], "range": [787, 787], "padding": 0}, "axis": null}
      },
      "layer": [
        {
          "transform": [{"filter": "datum.label === '近5年'"}],
          "mark": {"type": "point", "filled": true, "opacity": 1, "size": 62001, "color": "#e6f0fd",
            "shape": "M -0.168,-0.4217 L 0.988,-0.4217 A 0.4217,0.4217 0 0 1 0.988,0.4217 L -0.168,0.4217 A 0.4217,0.4217 0 0 1 -0.168,-0.4217 Z"}
        },
        {
          "transform": [{"filter": "datum.label === '现任经理管理来'"}],
          "mark": {"type": "point", "filled": true, "opacity": 1, "size": 40000, "fill": "#ffffff", "stroke": "#e0e0e0", "strokeWidth": 2,
            "shape": "M 4.95,0 A 0.53,0.53 0 1 1 3.89,0 A 0.53,0.53 0 1 1 4.95,0 Z"}
        },
        {
          "transform": [{"filter": "datum.label === '现任经理管理来'"}],
          "mark": {"type": "point", "filled": false, "opacity": 1, "size": 40000, "color": "#bdbdbd", "strokeWidth": 4,
            "shape": "M 4.26,-0.07 L 4.42,0.08 L 4.58,-0.07"}
        },
        {
          "transform": [{"filter": "datum.label === '现任经理管理来'"}],
          "mark": {"type": "text", "align": "left", "baseline": "middle", "dx": -50, "dy": 22, "fontSize": 68, "fontWeight": "bold", "font": "Noto Sans CJK SC", "fill": "#ffffff", "fillOpacity": 0.85, "stroke": "#c2c2c2", "strokeWidth": 2.2, "text": "@北漂民工的日常"}
        },
        {
          "mark": {"type": "text", "align": "left", "baseline": "middle", "fontSize": 38, "font": "Noto Sans CJK SC"},
          "encoding": {
            "text": {"field": "label"},
            "color": {"condition": {"test": "datum.label === '近5年'", "value": "#1677ff"}, "value": "#6b6b6b"}
          }
        }
      ]
    }
  ],
  "resolve": {"scale": {"x": "independent", "y": "independent", "fill": "independent", "color": "independent", "shape": "independent"}}
}
